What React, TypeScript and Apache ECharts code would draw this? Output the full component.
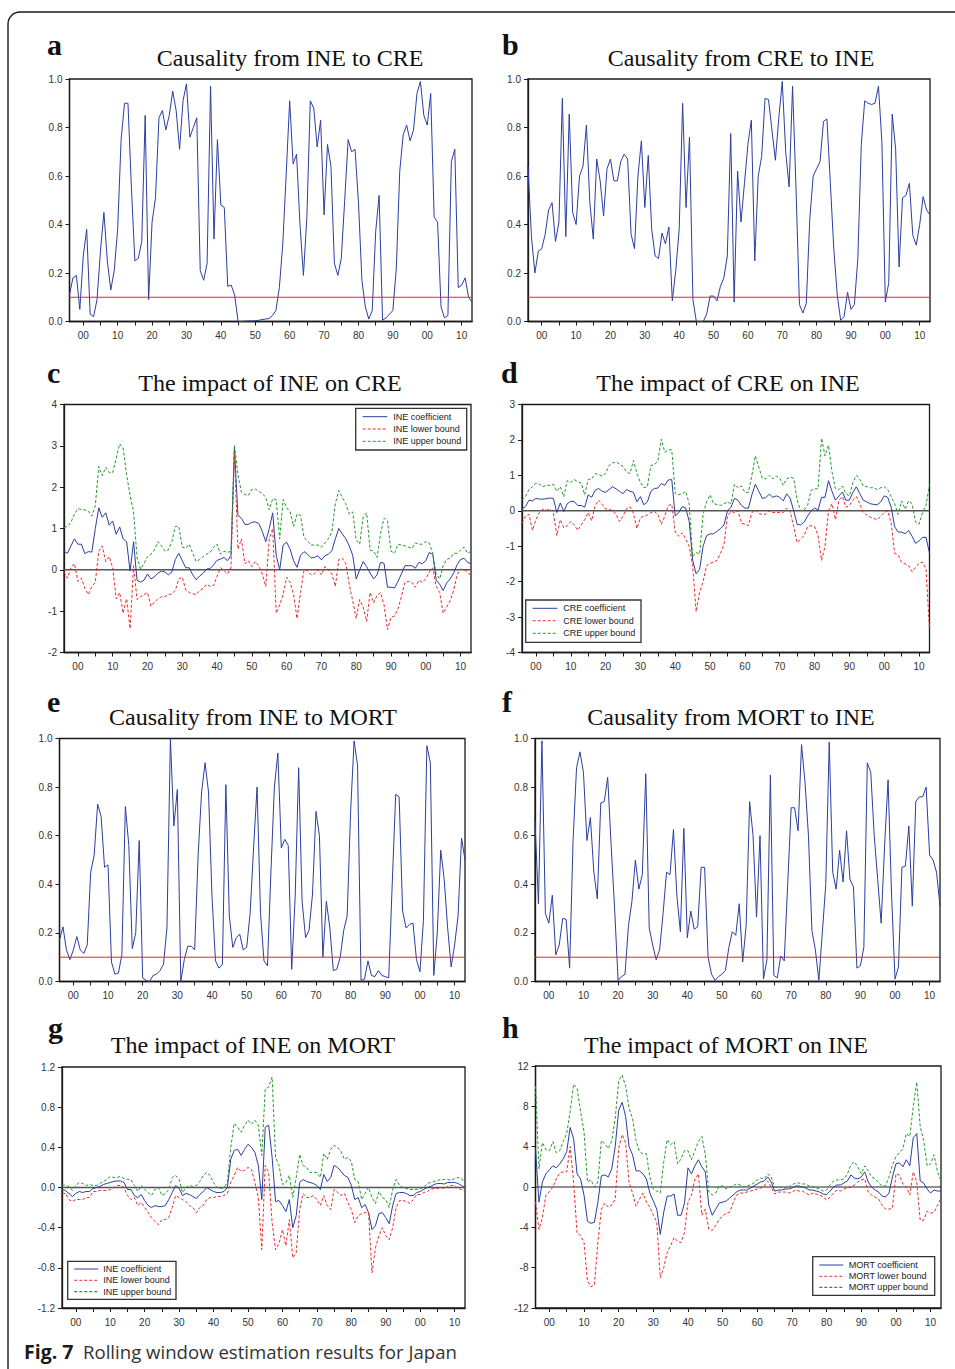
import React, { useEffect, useRef } from "react";
import * as echarts from "echarts";

// Years 1896..2013 (category axis)
const YEARS: string[] = Array.from({ length: 118 }, (_, i) => String(1896 + i));

// a: Causality from INE to CRE
const A_INE_CRE = [
  0.11, 0.18, 0.19, 0.05, 0.27, 0.38, 0.03, 0.02, 0.09, 0.29,
  0.45, 0.25, 0.13, 0.21, 0.38, 0.75, 0.90, 0.90, 0.55, 0.25,
  0.26, 0.33, 0.85, 0.09, 0.41, 0.51, 0.84, 0.87, 0.79, 0.85,
  0.95, 0.87, 0.71, 0.91, 0.98, 0.76, 0.80, 0.84, 0.21, 0.17,
  0.24, 0.97, 0.34, 0.75, 0.48, 0.47, 0.145, 0.15, 0.11, 0.0,
  0.0, 0.001, 0.002, 0.002, 0.003, 0.005, 0.008, 0.01, 0.012, 0.025,
  0.045, 0.14, 0.32, 0.61, 0.91, 0.65, 0.69, 0.40, 0.19, 0.43,
  0.91, 0.88, 0.72, 0.83, 0.44, 0.73, 0.64, 0.24, 0.19, 0.26,
  0.50, 0.75, 0.70, 0.71, 0.49, 0.17, 0.06, 0.01, 0.045, 0.37,
  0.52, 0.005, 0.015, 0.03, 0.045, 0.22, 0.62, 0.77, 0.81, 0.745,
  0.79, 0.94, 0.99, 0.85, 0.81, 0.94, 0.43, 0.41, 0.06, 0.015,
  0.025, 0.66, 0.71, 0.14, 0.15, 0.18, 0.10, 0.08,
];

// b: Causality from CRE to INE
const B_CRE_INE = [
  0.64, 0.35, 0.20, 0.29, 0.30, 0.36, 0.46, 0.49, 0.33, 0.41,
  0.92, 0.35, 0.855, 0.45, 0.40, 0.60, 0.64, 0.81, 0.49, 0.34,
  0.67, 0.58, 0.435, 0.63, 0.67, 0.58, 0.58, 0.66, 0.69, 0.67,
  0.36, 0.30, 0.60, 0.745, 0.47, 0.685, 0.38, 0.27, 0.26, 0.365,
  0.32, 0.39, 0.085, 0.21, 0.38, 0.90, 0.47, 0.76, 0.09, 0.0,
  0.0, 0.0, 0.03, 0.105, 0.105, 0.085, 0.145, 0.18, 0.27, 0.775,
  0.08, 0.62, 0.41, 0.57, 0.73, 0.83, 0.25, 0.60, 0.68, 0.92,
  0.915, 0.79, 0.665, 0.84, 0.99, 0.70, 0.555, 0.97, 0.55, 0.07,
  0.035, 0.075, 0.42, 0.60, 0.63, 0.66, 0.825, 0.835, 0.57, 0.30,
  0.11, 0.005, 0.02, 0.12, 0.05, 0.07, 0.26, 0.73, 0.91, 0.90,
  0.895, 0.90, 0.97, 0.74, 0.08, 0.16, 0.855, 0.71, 0.225, 0.51,
  0.52, 0.57, 0.355, 0.315, 0.40, 0.515, 0.46, 0.44,
];

// c: The impact of INE on CRE
const C_COEF = [
  0.45, 0.40, 0.58, 0.75, 0.62, 0.62, 0.39, 0.44, 0.43, 1.0,
  1.5, 1.27, 1.38, 1.08, 1.18, 0.86, 1.04, 0.75, 0.68, -0.03,
  0.68, -0.25, -0.30, -0.25, -0.10, -0.22, -0.17, -0.08, -0.03, -0.05,
  -0.12, -0.05, 0.25, 0.40, 0.22, 0.05, 0.05, -0.12, -0.24, -0.15,
  -0.08, 0.02, 0.03, 0.12, 0.23, 0.26, 0.30, 0.22, 0.35, 2.95,
  1.32, 1.25, 1.10, 1.10, 1.15, 1.16, 1.12, 0.93, 0.68, 1.0,
  1.38, 0.35, 0.0, 0.60, 0.67, 0.50, 0.22, 0.06, 0.35, 0.44,
  0.38, 0.29, 0.30, 0.34, 0.24, 0.34, 0.38, 0.46, 0.75, 1.0,
  0.87, 0.75, 0.58, 0.35, -0.22, 0.0, 0.20, 0.08, -0.08, -0.22,
  -0.12, 0.18, 0.16, -0.42, -0.42, -0.44, -0.28, -0.10, 0.10, 0.10,
  0.10, 0.04, 0.18, 0.15, 0.22, 0.42, 0.38, -0.25, -0.35, -0.50,
  -0.32, -0.22, -0.08, 0.12, 0.25, 0.28, 0.18, 0.15,
];
const C_LOWER = [
  -0.05, -0.20, 0.05, 0.15, -0.28, -0.20, -0.45, -0.60, -0.40, -0.30,
  0.45, 0.58, 0.20, 0.32, 0.05, -0.70, -0.55, -1.05, -0.70, -1.42,
  0.10, -0.72, -0.65, -0.60, -0.55, -0.88, -0.78, -0.70, -0.65, -0.65,
  -0.60, -0.58, -0.50, -0.22, -0.18, -0.48, -0.55, -0.58, -0.60, -0.50,
  -0.45, -0.35, -0.40, -0.38, -0.15, 0.05, -0.02, -0.10, 0.05, 2.85,
  0.50, 0.75, 0.15, 0.22, 0.08, 0.20, 0.10, -0.10, -0.40, 0.75,
  1.0, -1.05, -0.85, -0.60, -0.18, -0.30, -0.60, -1.18, -0.55, 0.0,
  -0.02, -0.12, -0.10, 0.0, -0.12, 0.08, 0.0, -0.10, -0.40, 0.25,
  0.28, 0.15, -0.35, -0.75, -1.18, -0.72, -0.90, -1.25, -0.55, -0.80,
  -0.62, -0.55, -0.85, -1.45, -1.15, -1.12, -0.95, -0.65, -0.30, -0.28,
  -0.30, -0.42, -0.25, -0.30, -0.22, -0.05, 0.05, -0.40, -0.55, -1.05,
  -0.90, -0.75, -0.50, -0.12, 0.02, 0.0, -0.05, -0.15,
];
const C_UPPER = [
  1.02, 1.05, 1.15, 1.35, 1.48, 1.46, 1.45, 1.42, 1.30, 1.55,
  2.50, 2.28, 2.48, 2.35, 2.35, 2.70, 3.05, 2.95, 2.30, 1.80,
  1.40, 0.30, 0.02, 0.15, 0.32, 0.38, 0.48, 0.68, 0.58, 0.45,
  0.48, 0.68, 1.05, 1.05, 0.55, 0.52, 0.62, 0.40, 0.20, 0.25,
  0.32, 0.38, 0.42, 0.55, 0.62, 0.38, 0.45, 0.42, 0.45, 3.02,
  2.30, 1.88, 1.82, 1.80, 1.95, 1.95, 1.90, 1.85, 1.75, 1.45,
  1.72, 1.70, 0.75, 1.70, 1.50, 1.40, 1.05, 1.35, 1.32, 0.78,
  0.70, 0.60, 0.60, 0.60, 0.55, 0.65, 0.75, 0.92, 1.60, 1.92,
  1.75, 1.60, 1.35, 1.40, 0.72, 0.62, 1.28, 1.38, 0.48, 0.45,
  0.30, 0.88, 1.25, 1.18, 0.45, 0.40, 0.62, 0.60, 0.58, 0.55,
  0.52, 0.65, 0.62, 0.62, 0.68, 0.65, 0.40, -0.10, -0.22, 0.10,
  0.25, 0.28, 0.40, 0.40, 0.48, 0.55, 0.40, 0.45,
];

// d: The impact of CRE on INE
const D_COEF = [
  0.05, 0.12, 0.30, 0.28, 0.35, 0.33, 0.33, 0.34, 0.36, 0.35,
  -0.05, 0.22, -0.02, 0.20, 0.27, 0.26, 0.15, 0.15, 0.10, 0.45,
  0.38, 0.58, 0.63, 0.55, 0.52, 0.60, 0.68, 0.62, 0.55, 0.48,
  0.60, 0.55, 0.52, 0.25, 0.40, 0.17, 0.25, 0.55, 0.63, 0.64,
  0.77, 0.72, 0.87, 0.88, -0.15, -0.05, 0.12, 0.08, -0.30, -1.40,
  -1.78, -1.65, -1.0, -0.70, -0.65, -0.65, -0.58, -0.50, -0.40, 0.0,
  0.10, 0.35, 0.30, 0.15, 0.08, 0.07, 0.45, 0.75, 0.55, 0.35,
  0.37, 0.47, 0.38, 0.42, 0.38, 0.28, 0.48, 0.35, 0.0, -0.38,
  -0.40, -0.32, -0.15, 0.0, 0.08, 0.02, 0.38, 0.38, 0.85, 0.55,
  0.30, 0.42, 0.53, 0.30, 0.30, 0.52, 0.68, 0.48, 0.30, 0.25,
  0.20, 0.18, 0.17, 0.25, 0.42, 0.38, 0.10, -0.45, -0.60, -0.60,
  -0.65, -0.55, -0.72, -0.92, -0.85, -0.75, -0.75, -1.20,
];
const D_LOWER = [
  -0.35, -0.15, -0.10, -0.55, -0.25, -0.05, 0.05, 0.02, 0.05, -0.05,
  -0.70, -0.25, -0.48, -0.42, -0.30, -0.40, -0.55, -0.40, -0.25, -0.05,
  -0.28, 0.15, 0.30, 0.18, 0.05, 0.05, 0.0, -0.10, -0.30, -0.15,
  0.05, 0.12, -0.08, -0.50, -0.20, -0.15, -0.12, -0.05, -0.02, -0.10,
  -0.38, -0.15, 0.15, 0.18, -0.60, -0.72, -0.62, -0.80, -1.0, -1.55,
  -2.85, -2.30, -2.0, -1.55, -1.48, -1.45, -1.40, -1.20, -0.95, -0.15,
  -0.02, -0.05, 0.0, -0.35, -0.38, -0.42, -0.05, 0.02, -0.08, -0.10,
  -0.10, 0.0, -0.05, -0.05, -0.05, -0.05, 0.08, -0.02, -0.45, -0.90,
  -0.80, -0.70, -0.45, -0.42, -0.45, -0.70, -1.40, -1.0, 0.0, 0.20,
  -0.25, 0.30, 0.40, 0.10, 0.15, 0.30, 0.40, 0.20, -0.05, -0.12,
  -0.18, -0.22, -0.25, -0.15, -0.05, 0.0, -0.35, -1.20, -1.25, -1.45,
  -1.50, -1.55, -1.72, -1.60, -1.48, -1.45, -1.65, -3.35,
];
const D_UPPER = [
  0.30, 0.40, 0.60, 0.68, 0.78, 0.75, 0.68, 0.72, 0.72, 0.75,
  0.55, 0.68, 0.40, 0.85, 0.80, 0.88, 0.82, 0.78, 0.45, 0.88,
  0.90, 1.05, 1.02, 0.98, 1.05, 1.28, 1.35, 1.38, 1.32, 1.25,
  1.10, 1.05, 1.42, 1.05, 0.80, 0.65, 0.68, 1.28, 1.30, 1.40,
  2.02, 1.65, 1.72, 1.72, 0.48, 0.45, 0.48, 0.55, 0.20, -1.30,
  -1.18, -1.22, -0.10, 0.25, 0.45, 0.20, 0.18, 0.15, 0.20, 0.25,
  0.20, 0.75, 0.65, 0.70, 0.52, 0.52, 1.0, 1.55, 1.22, 0.92,
  0.90, 1.0, 0.90, 0.98, 0.92, 0.72, 0.90, 0.95, 0.92, 0.30,
  0.0, 0.02, 0.15, 0.58, 0.62, 0.62, 2.05, 1.55, 1.85, 1.10,
  0.62, 0.60, 0.70, 0.48, 0.42, 0.80, 1.0, 0.88, 0.70, 0.68,
  0.65, 0.65, 0.60, 0.65, 0.68, 0.60, 0.40, 0.20, -0.10, 0.28,
  0.05, 0.28, 0.20, -0.32, -0.38, -0.05, 0.15, 0.75,
];

// e: Causality from INE to MORT
const E_INE_MORT = [
  0.17, 0.225, 0.13, 0.09, 0.13, 0.185, 0.13, 0.115, 0.15, 0.45,
  0.52, 0.73, 0.68, 0.47, 0.48, 0.08, 0.03, 0.035, 0.11, 0.72,
  0.56, 0.135, 0.20, 0.58, 0.015, 0.005, 0.0, 0.025, 0.03, 0.045,
  0.07, 0.22, 1.0, 0.64, 0.79, 0.0, 0.09, 0.145, 0.145, 0.13,
  0.52, 0.78, 0.90, 0.78, 0.35, 0.085, 0.055, 0.07, 0.81, 0.27,
  0.14, 0.18, 0.195, 0.13, 0.14, 0.28, 0.55, 0.80, 0.28, 0.085,
  0.065, 0.45, 0.80, 0.94, 0.55, 0.585, 0.56, 0.05, 0.35, 0.88,
  0.33, 0.18, 0.21, 0.36, 0.70, 0.60, 0.10, 0.33, 0.22, 0.045,
  0.05, 0.10, 0.21, 0.27, 0.70, 0.99, 0.89, 0.005, 0.01, 0.085,
  0.025, 0.02, 0.045, 0.025, 0.02, 0.015, 0.40, 0.77, 0.76, 0.29,
  0.22, 0.235, 0.24, 0.09, 0.04, 0.25, 0.97, 0.90, 0.025, 0.20,
  0.54, 0.42, 0.22, 0.06, 0.15, 0.27, 0.59, 0.50,
];

// f: Causality from MORT to INE
const F_MORT_INE = [
  0.66, 0.32, 0.99, 0.28, 0.24, 0.355, 0.11, 0.15, 0.26, 0.255,
  0.055, 0.58, 0.88, 0.945, 0.86, 0.58, 0.675, 0.45, 0.34, 0.735,
  0.74, 0.84, 0.56, 0.30, 0.005, 0.02, 0.03, 0.23, 0.33, 0.50,
  0.38, 0.44, 0.855, 0.22, 0.15, 0.09, 0.13, 0.28, 0.45, 0.44,
  0.625, 0.35, 0.205, 0.63, 0.18, 0.29, 0.215, 0.225, 0.47, 0.47,
  0.10, 0.03, 0.005, 0.02, 0.03, 0.045, 0.14, 0.205, 0.19, 0.32,
  0.08, 0.23, 0.74, 0.60, 0.265, 0.60, 0.01, 0.09, 0.85, 0.025,
  0.015, 0.105, 0.085, 0.40, 0.715, 0.715, 0.62, 0.975, 0.82, 0.60,
  0.21, 0.13, 0.005, 0.20, 0.40, 0.985, 0.45, 0.38, 0.54, 0.41,
  0.62, 0.42, 0.39, 0.055, 0.065, 0.14, 0.90, 0.86, 0.60, 0.42,
  0.24, 0.56, 0.83, 0.36, 0.01, 0.06, 0.47, 0.475, 0.64, 0.31,
  0.74, 0.76, 0.76, 0.80, 0.52, 0.50, 0.45, 0.31,
];

// g: The impact of INE on MORT
const G_COEF = [
  -0.02, -0.03, -0.06, -0.09, -0.06, -0.04, -0.05, -0.04, -0.04, -0.01,
  0.0, 0.01, 0.03, 0.04, 0.05, 0.06, 0.065, 0.065, 0.05, -0.02,
  -0.02, -0.08, -0.10, -0.07, -0.13, -0.18, -0.20, -0.18, -0.19, -0.19,
  -0.18, -0.12, -0.05, 0.02, -0.01, -0.08, -0.06, -0.07, -0.09, -0.11,
  -0.07, -0.04, 0.0, -0.02, -0.04, -0.05, -0.05, -0.04, 0.0, 0.28,
  0.37, 0.38, 0.32, 0.38, 0.43, 0.40, 0.35, 0.22, -0.12, 0.60,
  0.62, 0.30, -0.14, -0.13, -0.18, -0.24, -0.12, -0.40, -0.28, 0.05,
  0.08, 0.06, 0.05, 0.04, 0.02, -0.02, 0.13, 0.06, 0.10, 0.22,
  0.20, 0.16, 0.12, 0.10, 0.02, -0.12, -0.10, -0.20, -0.17, -0.25,
  -0.42, -0.38, -0.26, -0.25, -0.30, -0.36, -0.18, -0.06, -0.05, -0.05,
  -0.06, -0.08, -0.08, -0.05, -0.04, -0.02, 0.0, 0.01, 0.03, 0.04,
  0.04, 0.035, 0.05, 0.05, 0.05, 0.04, 0.02, 0.0,
];
const G_LOWER = [
  -0.06, -0.06, -0.12, -0.14, -0.12, -0.12, -0.12, -0.10, -0.10, -0.04,
  -0.04, -0.03, -0.03, -0.03, -0.02, 0.0, 0.02, 0.02, 0.0, -0.08,
  -0.12, -0.10, -0.18, -0.15, -0.20, -0.25, -0.30, -0.34, -0.37, -0.32,
  -0.32, -0.30, -0.20, -0.08, -0.10, -0.12, -0.14, -0.18, -0.20, -0.25,
  -0.20, -0.18, -0.12, -0.10, -0.10, -0.09, -0.09, -0.08, -0.06, 0.05,
  0.12, 0.20, 0.16, 0.17, 0.20, 0.18, 0.05, -0.10, -0.62, 0.22,
  0.15, -0.35, -0.62, -0.56, -0.42, -0.58, -0.32, -0.70, -0.65, -0.22,
  -0.06, -0.10, -0.10, -0.08, -0.12, -0.18, -0.08, -0.18, -0.22, -0.02,
  -0.05, -0.08, -0.06, -0.15, -0.22, -0.35, -0.28, -0.26, -0.25, -0.25,
  -0.85, -0.60, -0.48, -0.40, -0.48, -0.52, -0.40, -0.20, -0.13, -0.13,
  -0.14, -0.16, -0.12, -0.07, -0.07, -0.05, -0.04, -0.02, -0.01, -0.01,
  0.0, -0.01, 0.01, 0.02, 0.02, -0.01, -0.02, -0.04,
];
const G_UPPER = [
  0.03, 0.02, 0.01, -0.03, 0.02, 0.05, 0.04, 0.02, 0.03, 0.02,
  0.02, 0.04, 0.06, 0.08, 0.11, 0.10, 0.10, 0.11, 0.09, 0.08,
  0.08, 0.02, -0.04, 0.02, -0.02, -0.05, -0.08, -0.02, 0.0, -0.08,
  -0.06, -0.02, 0.10, 0.12, 0.08, -0.05, 0.0, 0.02, 0.01, 0.02,
  0.06, 0.12, 0.15, 0.12, 0.05, 0.0, -0.01, 0.0, 0.05, 0.40,
  0.64, 0.60, 0.55, 0.62, 0.67, 0.63, 0.67, 0.62, 0.32, 0.98,
  1.0, 1.1, 0.30, 0.22, 0.03, 0.05, 0.12, -0.10, 0.10, 0.33,
  0.22, 0.20, 0.15, 0.15, 0.15, 0.10, 0.34, 0.28, 0.38, 0.42,
  0.40, 0.36, 0.28, 0.30, 0.26, 0.08, 0.06, -0.12, -0.06, 0.0,
  -0.10, -0.16, -0.04, -0.10, -0.12, -0.20, -0.02, 0.08, 0.02, 0.0,
  -0.01, -0.02, -0.02, -0.02, -0.01, 0.0, 0.04, 0.05, 0.06, 0.07,
  0.08, 0.08, 0.08, 0.07, 0.09, 0.10, 0.09, 0.04,
];

// h: The impact of MORT on INE
const H_COEF = [
  3.8, -1.5, 0.5, 1.3, 1.7, 2.1, 1.9, 2.3, 2.8, 3.5,
  5.9, 4.8, 1.3, 0.8, -0.8, -3.4, -3.6, -3.5, -1.5, 1.1,
  1.2, 1.0, 1.8, 4.0, 7.6, 8.4, 7.0, 4.0, 3.2, 1.6,
  1.6, 1.3, 0.8, -0.6, -1.4, -2.2, -4.7, -2.5, -0.9, -0.9,
  -0.7, -2.8, -2.8, -1.6, 1.9, 1.3, 2.1, 2.7, 2.0, 1.5,
  -1.8, -2.8, -2.2, -1.6, -1.5, -1.4, -1.1, -0.8, -0.5, -0.3,
  -0.3, -0.3, -0.1, 0.1, 0.3, 0.5, 0.6, 1.0, 0.5, -0.4,
  -0.3, -0.3, -0.2, -0.2, -0.1, 0.1, 0.1, 0.0, -0.1, -0.3,
  -0.3, -0.4, -0.5, -0.7, -0.75, -0.4, 0.0, 0.2, 0.2, 0.4,
  0.6, 1.2, 0.9, 0.8, 1.0, 1.5, 0.5, 0.0, -0.3, -0.5,
  -0.9, -1.0, -0.6, 1.0, 2.3, 2.4, 2.0, 2.7, 2.1, 4.9,
  5.3, 0.6, 0.4, -0.2, -0.6, -0.3, -0.4, -0.4,
];
const H_LOWER = [
  -1.5, -4.2, -3.0, -0.8, -0.5, 0.0, 0.8, 1.4, 1.5, 1.5,
  4.0, 0.5, -4.6, -4.8, -5.5, -9.3, -9.9, -9.7, -5.5, -2.2,
  -1.6, -2.0, -1.8, -1.2, 3.8, 5.2, 4.4, 0.5, -0.6, -1.9,
  -1.2, -0.6, -1.5, -2.0, -2.8, -3.5, -9.0, -8.0, -6.5, -5.8,
  -5.0, -5.4, -5.5, -4.5, -1.5, -0.8, 0.8, 1.3, -2.8, -2.2,
  -4.2, -4.3, -3.8, -3.2, -2.9, -2.6, -2.5, -1.6, -0.8, -0.6,
  -0.6, -0.5, -0.4, -0.3, -0.2, -0.1, 0.1, 0.6, 0.0, -0.7,
  -0.5, -0.5, -0.5, -0.6, -0.5, -0.3, -0.4, -0.4, -0.6, -0.8,
  -0.6, -0.7, -0.8, -1.0, -1.3, -1.0, -0.6, -0.3, -0.4, -0.2,
  -0.1, 0.0, 0.2, 0.5, 0.7, 0.8, -0.5, -0.8, -1.0, -1.2,
  -1.8, -2.2, -2.2, -2.1, 1.3, 1.2, 0.3, 0.0, -0.8, 1.5,
  0.5, -3.3, -3.3, -2.4, -2.6, -2.5, -1.8, -1.1,
];
const H_UPPER = [
  10.0, 1.8, 4.4, 3.7, 3.6, 4.5, 3.4, 3.6, 4.5, 5.3,
  7.5, 10.2, 9.8, 7.5, 5.5, 0.5, 0.7, 0.0, 0.5, 4.6,
  4.3, 3.8, 4.6, 6.8, 10.5, 11.1, 10.0, 7.8, 6.8, 4.6,
  3.5, 3.3, 3.3, 1.0, -0.2, -0.4, -0.6, 2.5, 4.7, 4.2,
  4.5, 2.3, 2.8, 3.6, 3.6, 2.7, 3.6, 4.5, 5.0, 3.2,
  -0.5, -0.8, -0.6, 0.1, 0.1, -0.2, 0.0, 0.1, 0.3, 0.2,
  0.0, 0.1, 0.2, 0.4, 0.7, 0.9, 0.8, 1.3, 1.0, 0.0,
  -0.1, 0.0, -0.1, 0.0, 0.2, 0.4, 0.4, 0.3, 0.3, 0.1,
  0.0, -0.1, -0.2, -0.4, -0.3, 0.2, 0.6, 0.7, 0.7, 0.8,
  1.3, 2.2, 2.5, 2.0, 1.3, 2.1, 1.6, 1.0, 0.8, 0.4,
  0.1, 0.1, 1.0, 2.2, 3.0, 3.4, 3.8, 5.3, 5.0, 8.0,
  10.4, 6.0, 4.6, 2.1, 2.3, 3.2, 1.5, 0.6,
];

// Reference levels
const THRESHOLD = 0.1; // 10% significance level in the causality panels
const ZERO = 0;

const BLUE = "#2c3ea0";
const RED = "#ee2b2b";
const GREEN = "#22992a";
const REFRED = "#ea2420";
const DASH = [3, 2];

const SERIF = '"Liberation Serif", "Times New Roman", serif';
const SANS = '"Liberation Sans", Arial, sans-serif';

type S = { name: string; data: number[]; color: string; dashed: boolean };
type Panel = {
  letter: string;
  title: string;
  grid: { left: number; top: number; width: number; height: number };
  yMin: number;
  yMax: number;
  yInterval: number;
  yDecimals: number;
  ref: number;
  refColor: string;
  refWidth: number;
  series: S[];
  titleX: number;
  titleBase: number;
  letterX: number;
  letterBase: number;
  legend?: { x: number; y: number; w: number; h: number; rows: number[]; lx0: number; lx1: number; tx: number; upperColor: string };
};

const three = (prefix: string, c: number[], l: number[], u: number[]): S[] => [
  { name: `${prefix} coefficient`, data: c, color: BLUE, dashed: false },
  { name: `${prefix} lower bound`, data: l, color: RED, dashed: true },
  { name: `${prefix} upper bound`, data: u, color: GREEN, dashed: true },
];

const PANELS: Panel[] = [
  {
    letter: "a", title: "Causality from INE to CRE",
    grid: { left: 69.5, top: 79, width: 402.5, height: 242.5 },
    yMin: 0, yMax: 1, yInterval: 0.2, yDecimals: 1, ref: THRESHOLD, refColor: REFRED, refWidth: 1,
    series: [{ name: "INE to CRE", data: A_INE_CRE, color: BLUE, dashed: false }],
    titleX: 290, titleBase: 66, letterX: 47, letterBase: 55,
  },
  {
    letter: "b", title: "Causality from CRE to INE",
    grid: { left: 528, top: 79, width: 402, height: 242.5 },
    yMin: 0, yMax: 1, yInterval: 0.2, yDecimals: 1, ref: THRESHOLD, refColor: REFRED, refWidth: 1,
    series: [{ name: "CRE to INE", data: B_CRE_INE, color: BLUE, dashed: false }],
    titleX: 741, titleBase: 66, letterX: 502, letterBase: 55,
  },
  {
    letter: "c", title: "The impact of INE on CRE",
    grid: { left: 64, top: 404.5, width: 407, height: 248 },
    yMin: -2, yMax: 4, yInterval: 1, yDecimals: 0, ref: ZERO, refColor: "#555", refWidth: 1.5,
    series: three("INE", C_COEF, C_LOWER, C_UPPER),
    titleX: 270, titleBase: 391.5, letterX: 47, letterBase: 383,
    legend: { x: 355.7, y: 408.3, w: 111, h: 41.7, rows: [416.7, 429, 441.3], lx0: 362.7, lx1: 387.3, tx: 393.3, upperColor: GREEN },
  },
  {
    letter: "d", title: "The impact of CRE on INE",
    grid: { left: 522, top: 404.5, width: 407.5, height: 248 },
    yMin: -4, yMax: 3, yInterval: 1, yDecimals: 0, ref: ZERO, refColor: "#555", refWidth: 1.5,
    series: three("CRE", D_COEF, D_LOWER, D_UPPER),
    titleX: 728, titleBase: 391.5, letterX: 501, letterBase: 383,
    legend: { x: 525.7, y: 600, w: 115.3, h: 42.3, rows: [608.3, 620.7, 633.3], lx0: 532.7, lx1: 557.3, tx: 563.3, upperColor: GREEN },
  },
  {
    letter: "e", title: "Causality from INE to MORT",
    grid: { left: 59.5, top: 738.5, width: 405.5, height: 243 },
    yMin: 0, yMax: 1, yInterval: 0.2, yDecimals: 1, ref: THRESHOLD, refColor: REFRED, refWidth: 1,
    series: [{ name: "INE to MORT", data: E_INE_MORT, color: BLUE, dashed: false }],
    titleX: 253, titleBase: 725.5, letterX: 47, letterBase: 712,
  },
  {
    letter: "f", title: "Causality from MORT to INE",
    grid: { left: 535, top: 738.5, width: 405, height: 243 },
    yMin: 0, yMax: 1, yInterval: 0.2, yDecimals: 1, ref: THRESHOLD, refColor: REFRED, refWidth: 1,
    series: [{ name: "MORT to INE", data: F_MORT_INE, color: BLUE, dashed: false }],
    titleX: 731, titleBase: 725.5, letterX: 502, letterBase: 712,
  },
  {
    letter: "g", title: "The impact of INE on MORT",
    grid: { left: 62, top: 1067, width: 403, height: 241 },
    yMin: -1.2, yMax: 1.2, yInterval: 0.4, yDecimals: 1, ref: ZERO, refColor: "#555", refWidth: 1.5,
    series: three("INE", G_COEF, G_LOWER, G_UPPER),
    titleX: 253, titleBase: 1053.3, letterX: 48, letterBase: 1038,
    legend: { x: 67.7, y: 1261.3, w: 108.3, h: 38, rows: [1269, 1280.3, 1291.7], lx0: 74.3, lx1: 98.3, tx: 103.3, upperColor: "#1d5a22" },
  },
  {
    letter: "h", title: "The impact of MORT on INE",
    grid: { left: 535.5, top: 1066, width: 405.5, height: 242 },
    yMin: -12, yMax: 12, yInterval: 4, yDecimals: 0, ref: ZERO, refColor: "#222", refWidth: 1.2,
    series: three("MORT", H_COEF, H_LOWER, H_UPPER),
    titleX: 726, titleBase: 1053.3, letterX: 502, letterBase: 1038,
    legend: { x: 812.7, y: 1256.7, w: 122, h: 38.6, rows: [1265, 1276.3, 1287.3], lx0: 819.3, lx1: 843.3, tx: 848.7, upperColor: "#1d5a22" },
  },
];

function buildOption() {
  const grid = PANELS.map((p) => ({
    left: p.grid.left, top: p.grid.top, width: p.grid.width, height: p.grid.height,
    show: true, borderColor: "#1a1a1a", borderWidth: 1.3, backgroundColor: "transparent",
  }));
  const xAxis = PANELS.map((_, i) => ({
    type: "category", gridIndex: i, data: YEARS, boundaryGap: false,
    axisLine: { show: true, onZero: false, lineStyle: { color: "#1a1a1a", width: 1.3 } },
    axisTick: { show: true, length: 4, interval: (_idx: number, v: string) => Number(v) % 5 === 0, lineStyle: { color: "#1a1a1a", width: 1 } },
    axisLabel: {
      show: true, interval: (_idx: number, v: string) => Number(v) % 10 === 0,
      formatter: (v: string) => String(v).slice(2), color: "#333", fontSize: 10, fontFamily: SANS, margin: 9,
      hideOverlap: false,
    },
    splitLine: { show: false },
  }));
  const yAxis = PANELS.map((p, i) => ({
    type: "value", gridIndex: i, min: p.yMin, max: p.yMax, interval: p.yInterval,
    axisLine: { show: true, onZero: false, lineStyle: { color: "#1a1a1a", width: 1.3 } },
    axisTick: { show: true, length: 4, lineStyle: { color: "#1a1a1a", width: 1 } },
    axisLabel: {
      color: "#333", fontSize: 10, fontFamily: SANS, margin: 7,
      formatter: (v: number) => (Math.round(v * 10) / 10).toFixed(p.yDecimals),
    },
    splitLine: { show: false },
  }));
  const series: any[] = [];
  PANELS.forEach((p, i) => {
    p.series.forEach((s, k) => {
      series.push({
        type: "line", name: s.name, xAxisIndex: i, yAxisIndex: i, data: s.data,
        symbol: "none", showSymbol: false, silent: true, animation: false,
        itemStyle: { color: s.color },
        lineStyle: { color: s.color, width: 1, type: s.dashed ? DASH : "solid" },
        z: 3 + k,
      });
    });
    // reference level line, from the first to the last year of the axis
    series.push({
      type: "line", name: `ref-${p.letter}`, xAxisIndex: i, yAxisIndex: i,
      data: [[YEARS[0], p.ref], [YEARS[YEARS.length - 1], p.ref]],
      symbol: "none", showSymbol: false, silent: true, animation: false,
      itemStyle: { color: p.refColor },
      lineStyle: { color: p.refColor, width: p.refWidth, type: "solid" },
      z: p.ref === THRESHOLD ? 8 : 2,
    });
  });

  const graphic: any[] = [];
  graphic.push({
    type: "rect", shape: { x: 8, y: 12, width: 980, height: 1400, r: 12 },
    style: { fill: "none", stroke: "#1a1a1a", lineWidth: 1.4 }, silent: true,
  });
  PANELS.forEach((p) => {
    graphic.push({
      type: "text", x: p.letterX, y: p.letterBase - 10.5,
      style: { text: p.letter, font: `bold 30px ${SERIF}`, fill: "#111", textAlign: "left", textVerticalAlign: "middle", align: "left", verticalAlign: "middle" },
      silent: true,
    });
    graphic.push({
      type: "text", x: p.titleX, y: p.titleBase - 8.4,
      style: { text: p.title, font: `24px ${SERIF}`, fill: "#111", textAlign: "center", textVerticalAlign: "middle", align: "center", verticalAlign: "middle" },
      silent: true,
    });
    if (p.legend) {
      const L = p.legend;
      graphic.push({
        type: "rect", shape: { x: L.x, y: L.y, width: L.w, height: L.h },
        style: { fill: "#fff", stroke: "#333", lineWidth: 1.3 }, silent: true, z: 10,
      });
      p.series.forEach((s, k) => {
        const col = k === 2 ? L.upperColor : s.color;
        graphic.push({
          type: "line", shape: { x1: L.lx0, y1: L.rows[k], x2: L.lx1, y2: L.rows[k] },
          style: { stroke: col, lineWidth: 1, lineDash: s.dashed ? DASH : null }, silent: true, z: 11,
        });
        graphic.push({
          type: "text", x: L.tx, y: L.rows[k],
          style: { text: s.name, font: `9px ${SANS}`, fill: "#222", textAlign: "left", textVerticalAlign: "middle", align: "left", verticalAlign: "middle" },
          silent: true, z: 11,
        });
      });
    }
  });
  graphic.push({
    type: "text", x: 24, y: 1351,
    style: { text: "Fig. 7", font: `bold 19.5px "Open Sans", "Noto Sans", sans-serif`, fill: "#1a1a1a", textAlign: "left", textVerticalAlign: "middle", align: "left", verticalAlign: "middle" },
    silent: true,
  });
  graphic.push({
    type: "text", x: 83, y: 1351,
    style: { text: "Rolling window estimation results for Japan", font: `18.6px "Open Sans", "Noto Sans", sans-serif`, fill: "#333", textAlign: "left", textVerticalAlign: "middle", align: "left", verticalAlign: "middle" },
    silent: true,
  });

  return { animation: false, backgroundColor: "#fff", grid, xAxis, yAxis, series, graphic };
}

export default function App() {
  const ref = useRef<HTMLDivElement>(null);
  useEffect(() => {
    if (!ref.current) return;
    const chart = echarts.init(ref.current, undefined, { renderer: "svg" });
    chart.setOption(buildOption() as any);
    return () => chart.dispose();
  }, []);
  return (
    <div
      ref={ref}
      style={{ position: "absolute", left: 0, top: 0, width: 955, height: 1369, background: "#fff" }}
    />
  );
}
